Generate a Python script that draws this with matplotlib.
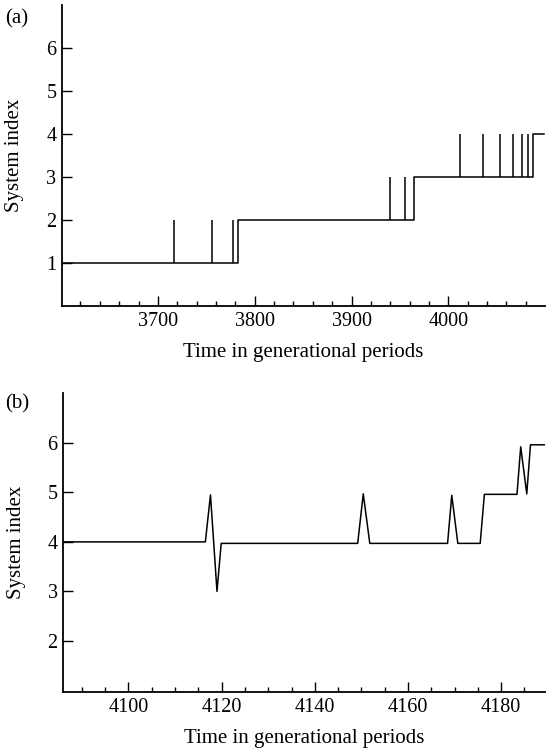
import numpy as np
import matplotlib
matplotlib.use("Agg")
import matplotlib.pyplot as plt
from matplotlib.ticker import MultipleLocator

# ---------------------------------------------------
# Daten (a): Stufen + kurze Ausreisser
# ---------------------------------------------------
steps_a_t = [3601, 3783, 3964.7, 4087, 4099]
steps_a_v = [1, 2, 3, 4, 4]
spikes_a_t = [3716.5, 3755.8, 3777.6, 3939.5, 3955.4,
              4011.6, 4035.4, 4053.3, 4066.4, 4076.4, 4082.2]
spikes_a_lo = [1, 1, 1, 2, 2, 3, 3, 3, 3, 3, 3]
spikes_a_hi = [2, 2, 2, 3, 3, 4, 4, 4, 4, 4, 4]

# ---------------------------------------------------
# Daten (b): Zeitreihe
# ---------------------------------------------------
time_b = [4086, 4116.5, 4117.6, 4119.0, 4119.9, 4149.2, 4150.4, 4151.8,
          4168.5, 4169.4, 4170.7, 4175.5, 4176.4, 4183.4, 4184.2, 4185.5,
          4186.3, 4189.5]
index_b = [4.0, 4.0, 4.95, 3.0, 3.97, 3.97, 4.97, 3.97,
           3.97, 4.94, 3.97, 3.97, 4.96, 4.96, 5.92, 4.97,
           5.96, 5.96]

plt.rcParams['font.family'] = ['Liberation Serif', 'DejaVu Serif']

fig = plt.figure(figsize=(5.46, 7.51), dpi=100)
ax_a = fig.add_axes([0.1136, 0.5925, 0.884, 0.4008])
ax_b = fig.add_axes([0.1159, 0.0786, 0.883, 0.3977])


def style(ax):
    for s in ['top', 'right']:
        ax.spines[s].set_visible(False)
    for s in ['left', 'bottom']:
        ax.spines[s].set_linewidth(1.3)
    ax.tick_params(which='major', direction='in', length=7, width=1.0,
                   pad=4, labelsize=14.5)
    ax.tick_params(which='minor', direction='in', length=3.5, width=1.0)
    ax.tick_params(axis='y', which='minor', left=False)
    ax.set_ylabel("System index", fontsize=15)
    ax.set_xlabel("Time in generational periods", fontsize=15, labelpad=9)
    ax.yaxis.set_label_coords(-0.078, 0.5)


# (a)
ax_a.step(steps_a_t, steps_a_v, where='post', color='black', lw=1.1)
ax_a.vlines(spikes_a_t, spikes_a_lo, spikes_a_hi, color='black', lw=1.1)
ax_a.set_xlim(3601, 4099.5)
ax_a.set_ylim(0, 7)
ax_a.set_yticks([1, 2, 3, 4, 5, 6])
ax_a.xaxis.set_major_locator(MultipleLocator(100))
ax_a.xaxis.set_minor_locator(MultipleLocator(20))
style(ax_a)

# (b)
ax_b.plot(time_b, index_b, color='black', lw=1.1)
ax_b.set_xlim(4086, 4189.5)
ax_b.set_ylim(0.97, 7)
ax_b.set_yticks([2, 3, 4, 5, 6])
ax_b.xaxis.set_major_locator(MultipleLocator(20))
ax_b.xaxis.set_minor_locator(MultipleLocator(5))
style(ax_b)

fig.text(17 / 546, 1 - 19 / 751, "(a)", fontsize=15, ha='center', va='center')
fig.text(17 / 546, 1 - 404 / 751, "(b)", fontsize=15, ha='center', va='center')

fig.savefig("out.png", dpi=100)
